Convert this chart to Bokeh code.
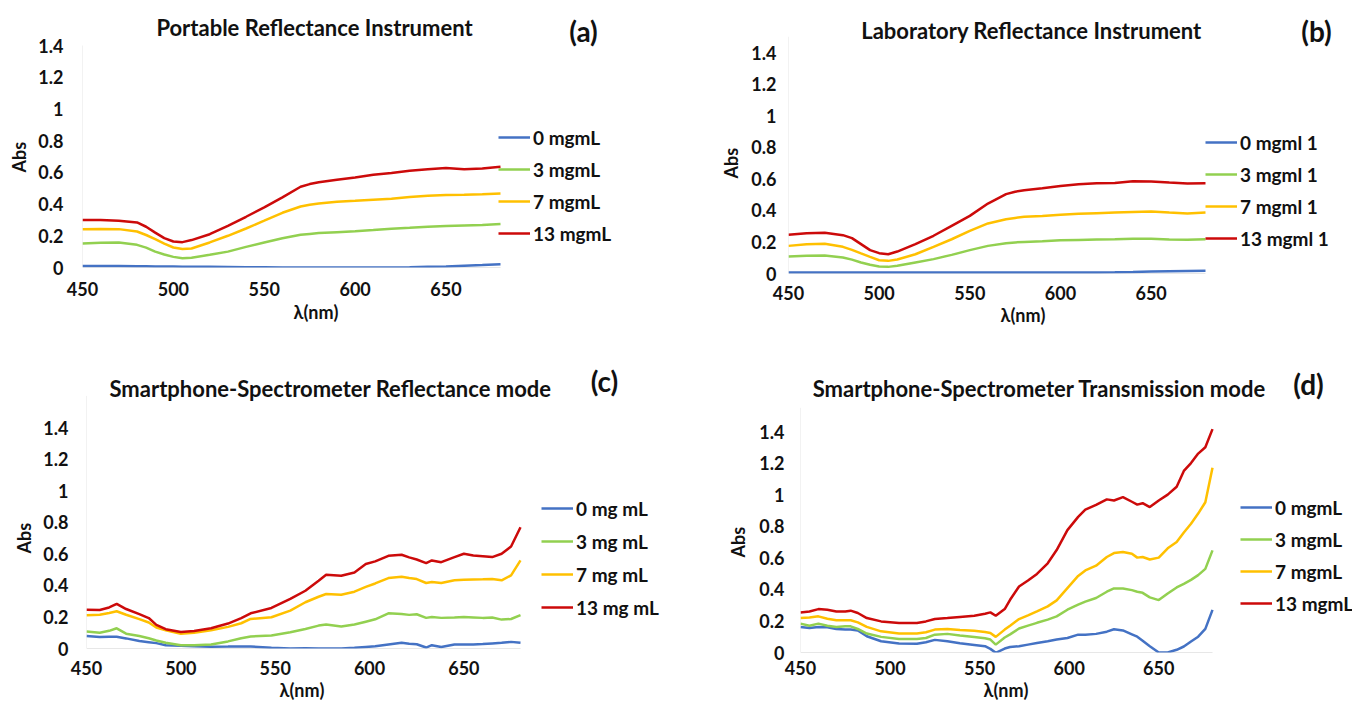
from bokeh.plotting import figure
from bokeh.layouts import column, row
from bokeh.models import Legend, LegendItem, Label, FixedTicker, Range1d, NumeralTickFormatter, Title
from bokeh.embed import file_html
from bokeh.resources import INLINE

# ---------------- data ----------------
wl_a = [450, 460, 470, 480, 485, 490, 495, 500, 505, 510, 520, 530, 540, 550, 560,
        570, 575, 580, 590, 600, 610, 620, 630, 640, 650, 660, 670, 680]
a_0 = [0.010, 0.010, 0.009, 0.008, 0.008, 0.007, 0.007, 0.006, 0.005, 0.005, 0.004, 0.003, 0.002, 0.001,
       0.0, 0.0, 0.0, 0.0, 0.0, 0.0, 0.0, 0.0, 0.002, 0.005, 0.007, 0.011, 0.015, 0.020]
a_3 = [0.152, 0.156, 0.158, 0.143, 0.125, 0.100, 0.082, 0.067, 0.059, 0.061, 0.080, 0.100, 0.130, 0.158,
       0.185, 0.206, 0.212, 0.217, 0.223, 0.229, 0.236, 0.244, 0.250, 0.257, 0.262, 0.265, 0.268, 0.274]
a_7 = [0.242, 0.243, 0.242, 0.227, 0.205, 0.179, 0.150, 0.126, 0.116, 0.120, 0.158, 0.200, 0.246, 0.295,
       0.345, 0.385, 0.396, 0.404, 0.415, 0.421, 0.428, 0.434, 0.444, 0.453, 0.457, 0.459, 0.462, 0.467]
a_13 = [0.300, 0.300, 0.295, 0.284, 0.257, 0.220, 0.185, 0.164, 0.160, 0.173, 0.210, 0.263, 0.320, 0.379,
        0.442, 0.509, 0.526, 0.537, 0.554, 0.568, 0.585, 0.596, 0.610, 0.620, 0.627, 0.620, 0.625, 0.636]

wl_b = [450, 460, 470, 480, 485, 490, 495, 500, 505, 510, 520, 530, 540, 550, 560,
        570, 575, 580, 590, 600, 610, 620, 630, 640, 650, 660, 670, 680]
b_0 = [0.006, 0.006, 0.006, 0.006, 0.006, 0.006, 0.006, 0.006, 0.006, 0.006, 0.006, 0.006, 0.006, 0.006,
       0.006, 0.006, 0.006, 0.006, 0.006, 0.006, 0.006, 0.007, 0.008, 0.010, 0.013, 0.015, 0.016, 0.017]
b_3 = [0.108, 0.112, 0.114, 0.101, 0.088, 0.070, 0.055, 0.044, 0.042, 0.049, 0.070, 0.091, 0.118, 0.148,
       0.175, 0.192, 0.197, 0.200, 0.205, 0.211, 0.213, 0.215, 0.217, 0.220, 0.220, 0.215, 0.214, 0.217]
b_7 = [0.175, 0.185, 0.188, 0.169, 0.150, 0.127, 0.105, 0.084, 0.080, 0.089, 0.122, 0.169, 0.217, 0.270,
       0.317, 0.344, 0.352, 0.359, 0.365, 0.372, 0.378, 0.382, 0.386, 0.390, 0.393, 0.386, 0.380, 0.386]
b_13 = [0.245, 0.255, 0.258, 0.243, 0.224, 0.186, 0.148, 0.129, 0.122, 0.139, 0.186, 0.239, 0.302, 0.365,
        0.443, 0.503, 0.518, 0.528, 0.540, 0.555, 0.566, 0.572, 0.574, 0.585, 0.583, 0.576, 0.570, 0.572]

wl_c = [450, 457, 462, 466, 471, 478, 483, 487, 492, 500, 507, 516, 525, 532, 537, 548, 558, 566, 573, 577,
        585, 592, 598, 603, 610, 617, 621, 625, 630, 633, 638, 645, 650, 655, 660, 665, 670, 675, 680]
c_0 = [0.079, 0.073, 0.075, 0.075, 0.064, 0.047, 0.040, 0.034, 0.021, 0.017, 0.015, 0.011, 0.012, 0.013,
       0.013, 0.004, 0.0, 0.002, 0.0, 0.0, 0.0, 0.004, 0.010, 0.014, 0.025, 0.036, 0.030, 0.027, 0.006,
       0.021, 0.010, 0.025, 0.025, 0.025, 0.028, 0.032, 0.036, 0.042, 0.036]
c_3 = [0.107, 0.100, 0.112, 0.128, 0.094, 0.079, 0.065, 0.051, 0.036, 0.021, 0.021, 0.025, 0.045, 0.065,
       0.076, 0.082, 0.103, 0.124, 0.145, 0.152, 0.139, 0.152, 0.170, 0.185, 0.223, 0.218, 0.213, 0.217,
       0.194, 0.200, 0.194, 0.197, 0.200, 0.197, 0.194, 0.196, 0.183, 0.187, 0.211]
c_7 = [0.210, 0.214, 0.225, 0.236, 0.214, 0.186, 0.165, 0.133, 0.116, 0.094, 0.100, 0.116, 0.137, 0.160,
       0.187, 0.198, 0.240, 0.293, 0.328, 0.345, 0.341, 0.360, 0.390, 0.412, 0.446, 0.455, 0.447, 0.440,
       0.415, 0.421, 0.415, 0.432, 0.436, 0.437, 0.438, 0.440, 0.432, 0.463, 0.558]
c_13 = [0.246, 0.244, 0.260, 0.283, 0.250, 0.218, 0.193, 0.150, 0.122, 0.105, 0.111, 0.128, 0.158, 0.193,
        0.223, 0.257, 0.314, 0.366, 0.429, 0.467, 0.461, 0.482, 0.535, 0.552, 0.587, 0.594, 0.577, 0.564,
        0.541, 0.558, 0.547, 0.579, 0.600, 0.589, 0.585, 0.579, 0.600, 0.646, 0.768]

wl_d = [450, 455, 460, 465, 470, 475, 478, 482, 487, 495, 505, 515, 520, 525, 532, 539, 547, 553, 556, 559,
        564, 567, 572, 577, 582, 588, 593, 599, 605, 609, 615, 621, 625, 630, 635, 638, 641, 645, 650, 655,
        660, 664, 668, 672, 676, 680]
d_0 = [0.162, 0.155, 0.162, 0.160, 0.149, 0.145, 0.145, 0.139, 0.103, 0.071, 0.057, 0.055, 0.065, 0.080,
       0.071, 0.058, 0.048, 0.040, 0.023, -0.002, 0.025, 0.035, 0.040, 0.050, 0.060, 0.071, 0.082, 0.092,
       0.113, 0.113, 0.118, 0.132, 0.147, 0.140, 0.115, 0.100, 0.075, 0.040, 0.0, 0.0, 0.017, 0.038, 0.070,
       0.100, 0.150, 0.270]
d_3 = [0.183, 0.170, 0.183, 0.170, 0.162, 0.166, 0.166, 0.149, 0.120, 0.099, 0.086, 0.086, 0.092, 0.113,
       0.118, 0.108, 0.098, 0.090, 0.082, 0.050, 0.095, 0.115, 0.152, 0.170, 0.188, 0.208, 0.229, 0.271,
       0.303, 0.322, 0.345, 0.385, 0.406, 0.406, 0.395, 0.385, 0.378, 0.349, 0.332, 0.374, 0.412, 0.435,
       0.460, 0.490, 0.530, 0.647]
d_7 = [0.218, 0.222, 0.229, 0.214, 0.204, 0.204, 0.204, 0.191, 0.162, 0.134, 0.120, 0.120, 0.128, 0.145,
       0.149, 0.143, 0.138, 0.130, 0.124, 0.099, 0.145, 0.170, 0.212, 0.235, 0.260, 0.292, 0.330, 0.408,
       0.485, 0.520, 0.550, 0.605, 0.630, 0.637, 0.626, 0.601, 0.605, 0.589, 0.601, 0.660, 0.700, 0.760,
       0.816, 0.880, 0.952, 1.170]
d_13 = [0.254, 0.260, 0.275, 0.271, 0.260, 0.260, 0.265, 0.250, 0.218, 0.197, 0.187, 0.187, 0.197, 0.212,
        0.218, 0.225, 0.233, 0.246, 0.254, 0.233, 0.275, 0.334, 0.418, 0.456, 0.498, 0.565, 0.649, 0.775,
        0.859, 0.905, 0.935, 0.970, 0.963, 0.984, 0.955, 0.937, 0.946, 0.921, 0.963, 1.000, 1.050, 1.150,
        1.200, 1.260, 1.300, 1.415]

labels_a = ["0 mgmL", "3 mgmL", "7 mgmL", "13 mgmL"]
labels_b = ["0 mgml 1", "3 mgml 1", "7 mgml 1", "13 mgml 1"]
labels_c = ["0 mg mL", "3 mg mL", "7 mg mL", "13 mg mL"]
labels_d = ["0 mgmL", "3 mgmL", "7 mgmL", "13 mgmL"]

x_ticks = [450, 500, 550, 600, 650]
y_ticks = [0, 0.2, 0.4, 0.6, 0.8, 1.0, 1.2, 1.4]
X0, X1 = 450, 680      # span of the data area
Y1 = 1.4               # top of the data area

# ---------------- styling ----------------
FONT = "Lato"
COLORS = ["#4472C4", "#92D050", "#FFC000", "#CC0A0A"]
TXT = "#111111"
TICK_SIZE = "18px"


def panel(wl, series, labels, title, tag, c):
    # c: layout in page pixels (frame left/bottom = 450 nm / 0 Abs)
    fl, fb = c["fl"], c["fb"]
    sx = (X1 - X0) / c["dw"]     # nm per px
    sy = Y1 / c["dh"]            # Abs per px
    p = figure(frame_width=c["fw"], frame_height=c["fh"],
               min_border_left=c["bl"], min_border_right=c["br"],
               min_border_top=c["bt"], min_border_bottom=c["bb"],
               x_range=Range1d(X0, X0 + c["fw"] * sx), y_range=Range1d(0, c["fh"] * sy),
               output_backend="svg", toolbar_location=None)
    p.outline_line_color = None
    p.grid.visible = False
    p.background_fill_color = "white"
    p.border_fill_color = "white"

    def px(x):
        return X0 + (x - fl) * sx

    def py(y):
        return (fb - y) * sy

    # axis lines limited to the data area (Excel style)
    p.segment(x0=[wl[0]], y0=[0], x1=[wl[-1]], y1=[0], line_color="#D0D0D0", line_width=1.2)
    p.segment(x0=[x_ticks[0]], y0=[0], x1=[x_ticks[0]], y1=[c["axtop"]], line_color="#E6E6E6", line_width=1)

    rends = []
    for ys, col in zip(series, COLORS):
        rends.append(p.line(wl, ys, line_color=col, line_width=2.5))

    for ax in (p.xaxis[0], p.yaxis[0]):
        ax.major_tick_line_color = None
        ax.minor_tick_line_color = None
        ax.major_tick_out = 0
        ax.major_tick_in = 0
        ax.axis_line_color = None
        ax.major_label_text_font = FONT
        ax.major_label_text_font_style = "bold"
        ax.major_label_text_font_size = TICK_SIZE
        ax.major_label_text_color = TXT
    p.xaxis.ticker = FixedTicker(ticks=x_ticks)
    p.yaxis.ticker = FixedTicker(ticks=y_ticks)
    p.yaxis.formatter = NumeralTickFormatter(format="0.[0]")
    p.xaxis.major_label_standoff = c["xs"]
    p.yaxis.major_label_standoff = c["ys"]

    tstyle = dict(text_font=FONT, text_font_style="bold", text_color=TXT, text_font_size="18px")
    p.add_layout(Title(text="λ(nm)", align="left", offset=c["lamx"] - 24 - fl,
                       vertical_align="middle", standoff=c["lams"], **tstyle), "below")
    p.add_layout(Title(text="Abs", align="left", offset=fb - c["absy"] - 15,
                       vertical_align="middle", standoff=c["abss"], **tstyle), "left")

    common = dict(x_units="data", y_units="data", text_align="center", text_baseline="middle",
                  text_font=FONT, text_font_style="bold", text_color=TXT)
    p.add_layout(Label(x=px(c["tx"]), y=py(c["ty"]), text=title, text_font_size="22px", **common))
    p.add_layout(Label(x=px(c["gx"]), y=py(c["gy"]), text=tag, text_font_size="28px", **common))

    rh, sp = 24, c["sp"]
    top = c["leg_y"] - rh / 2
    height = 4 * rh + 3 * sp
    items = [LegendItem(label=lab, renderers=[r]) for lab, r in zip(labels, rends)]
    leg = Legend(items=items, location=(c["leg_x"] - fl, fb - (top + height)), orientation="vertical",
                 border_line_color=None, background_fill_alpha=0, padding=0, margin=0,
                 spacing=sp, glyph_width=32, glyph_height=rh, label_height=rh,
                 label_standoff=3, label_text_font=FONT, label_text_font_style="bold",
                 label_text_font_size="19px", label_text_color=TXT)
    p.add_layout(leg)
    return p


pa = panel(wl_a, [a_0, a_3, a_7, a_13], labels_a, "Portable Reflectance Instrument", "(a)",
           dict(fl=82, fb=267, dw=418, dh=222, fw=606, fh=259, bl=82, br=2, bt=8, bb=83,
                xs=14, ys=19, lamx=317, lams=3, absy=157, abss=9, axtop=1.4,
                tx=314, ty=27, gx=583, gy=30, leg_x=498, leg_y=137, sp=8))
pb = panel(wl_b, [b_0, b_3, b_7, b_13], labels_b, "Laboratory Reflectance Instrument", "(b)",
           dict(fl=788, fb=273, dw=417, dh=221, fw=562, fh=265, bl=98, br=2, bt=8, bb=77,
                xs=12, ys=12, lamx=1024, lams=0, absy=163, abss=11, axtop=1.5,
                tx=1031, ty=30, gx=1316, gy=30, leg_x=1205, leg_y=142, sp=8))
pc = panel(wl_c, [c_0, c_3, c_7, c_13], labels_c, "Smartphone-Spectrometer Reflectance mode", "(c)",
           dict(fl=86, fb=648, dw=434, dh=221, fw=602, fh=296, bl=86, br=2, bt=2, bb=54,
                xs=12, ys=18, lamx=303, lams=0, absy=538, abss=9, axtop=1.6,
                tx=330, ty=388, gx=604, gy=380, leg_x=541, leg_y=508, sp=9))
pd_ = panel(wl_d, [d_0, d_3, d_7, d_13], labels_d, "Smartphone-Spectrometer Transmission mode", "(d)",
            dict(fl=800, fb=652, dw=412, dh=221, fw=552, fh=300, bl=110, br=0, bt=2, bb=50,
                 xs=8, ys=16, lamx=1007, lams=0, absy=542, abss=13, axtop=1.55,
                 tx=1039, ty=388, gx=1308, gy=383, leg_x=1240, leg_y=507, sp=8))

layout = column(row(pa, pb), row(pc, pd_))
open("out.html", "w").write(file_html(layout, INLINE))
